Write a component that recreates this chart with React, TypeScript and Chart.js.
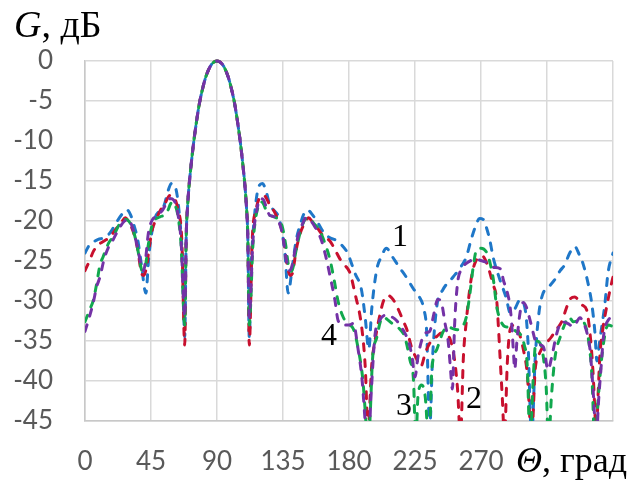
import { useEffect, useRef } from "react";
import { Chart, registerables } from "chart.js";

Chart.register(...registerables);

// ---- axis / tick data ----
const xLabeledTicks = [0, 45, 90, 135, 180, 225, 270];
const xMin = 0;
const xMax = 360;
const xStep = 45;
const yMin = -45;
const yMax = 0;
const yStep = 5;

// ---- main lobe (common to all four curves) ----
const mainLobeAngles = [69, 70, 71, 72, 74, 76, 78, 80, 82, 84, 86, 88, 90, 92, 94, 96, 98, 100, 102, 104, 106, 108, 109, 110, 111];
const mainLobeGain = [-22, -18, -15.5, -13.6, -10.3, -7.6, -5.3, -3.6, -2.2, -1.2, -0.5, -0.12, 0, -0.12, -0.5, -1.2, -2.2, -3.6, -5.3, -7.6, -10.3, -13.6, -15.5, -18, -22];

// ---- curve 1 (blue) side lobes ----
const angles1 = [0, 3, 6, 9, 13, 17, 21, 25, 28.5, 31, 33, 36, 38.5, 41.5, 43.5, 45.5, 48, 51, 54, 56.5, 59, 62, 64.5, 66.5, 68,
  112, 113.5, 115.5, 118, 121, 123.5, 126, 129, 132, 134.5, 136.5, 138.5, 141.5, 144, 147, 149, 151.5, 155, 159, 163, 167, 171, 175, 179, 184, 188.5, 191, 193.5, 195.5, 199, 202, 205.5, 209, 214, 219, 224, 228, 231, 233, 235, 237, 240, 244, 251, 256, 260, 263, 266, 269, 271.5, 274, 276, 278.5, 283, 287, 290, 293, 296.5, 299.5, 302, 304.5, 307, 309.5, 312, 316, 320, 324, 327, 330.5, 334, 337, 339.5, 343, 345.5, 347.7, 349, 351, 354.5, 356.6, 360];
const gain1 = [-24, -23, -22.6, -22.3, -22.1, -21.5, -20.3, -19.2, -18.6, -19.2, -20.3, -22.4, -25.5, -29, -24.5, -21.5, -19.5, -18.7, -18, -16.3, -15.3, -16, -19.5, -25, -34.5,
  -34.5, -25, -19.5, -16, -15.3, -16.3, -18, -18.7, -19.5, -21.5, -24.5, -29, -25.5, -22.4, -20.3, -19.2, -18.6, -19.2, -20.3, -21.5, -22.1, -22.4, -23, -24, -26.5, -28.6, -32, -36, -31, -26, -24.5, -23.4, -24.3, -25.7, -27, -28.5, -29.5, -31, -34, -46, -37, -30.5, -28.6, -27, -25.8, -24.5, -22.5, -20.8, -19.7, -19.8, -21, -22.4, -24.7, -27.4, -29.5, -31.5, -31, -29.9, -30.5, -35, -47, -37, -31.5, -29.2, -28.3, -27.4, -26.2, -25.5, -24, -23.2, -24.2, -25.3, -27.8, -30.3, -34, -37.5, -34.9, -30.3, -26.5, -24];

// ---- curve 2 (red) side lobes ----
const angles2 = [0, 3, 5.7, 9, 13, 17, 21.5, 25, 27.5, 30, 32.8, 36, 38.5, 40, 42, 44, 46, 48.5, 51, 54.5, 58, 60.5, 63.4, 66, 68,
  112, 114, 116.6, 119.5, 122, 125.5, 129, 131.5, 134, 136, 138, 140, 141.5, 144, 147.2, 150, 152.5, 155, 158.5, 163, 167, 170.5, 174, 177, 180.7, 184, 188.6, 191, 193, 195.5, 197.7, 201, 203.5, 206.5, 210, 213.5, 217, 219.5, 222.5, 226, 229, 232, 236, 240, 243, 246, 249, 252, 254, 256, 258, 260, 262, 264, 266, 268.5, 271, 274, 278, 280.7, 281.8, 283, 284.5, 286, 288, 290, 293, 296, 298.8, 301.5, 304.5, 307, 310, 312.5, 318, 321, 323, 325.5, 328, 331, 334, 336, 339, 342, 344, 345.5, 346.7, 347.7, 348.5, 350, 351, 353, 355.7, 358, 360];
const gain2 = [-26.2, -25, -23.8, -23, -22.5, -22, -20.9, -20.1, -19.6, -20.2, -21.3, -23.6, -26.5, -26.8, -25.7, -23, -21, -19.8, -18.8, -17.8, -16.8, -17, -18.6, -22.4, -35.5,
  -35.5, -22.4, -18.6, -17, -16.8, -17.8, -18.8, -19.8, -21, -23, -25.7, -26.8, -26.5, -23.6, -21.3, -20.2, -19.6, -20.1, -20.9, -22, -22.5, -23.6, -24.8, -25.5, -26.5, -29, -33.2, -38, -46, -38, -35, -31.8, -30, -29.3, -29.8, -31, -32.5, -33.6, -35.7, -37.2, -38.2, -36.5, -35, -34.4, -34, -34.2, -34.8, -37.4, -41, -47, -37, -32.5, -29, -26.5, -25.2, -24.5, -24.4, -25.3, -27.8, -29.9, -33, -37, -42, -47, -37.5, -33.5, -33, -34, -36, -39, -47, -38.5, -36.5, -35.7, -34.5, -33.6, -33.2, -32.4, -31, -29.7, -29.5, -29.8, -30.5, -31.1, -33.5, -36.5, -40, -44, -47, -41, -37, -33.6, -30.7, -28.6, -27];

// ---- curve 3 (green) side lobes ----
const angles3 = [0, 3.4, 5.7, 8, 10.2, 12.3, 16, 19, 23.9, 28, 32.8, 36, 38.6, 39.8, 41.5, 43, 45.5, 48, 51, 55.7, 58.5, 60, 62, 63.5, 65.5, 68,
  112, 114.5, 116.5, 118, 120, 121.5, 124.3, 129, 132, 134.5, 137, 138.5, 140.2, 141.4, 144, 147.2, 150, 152.5, 156, 160, 164, 167, 170, 172.5, 176, 179, 183, 186, 189.5, 191.5, 193, 194.5, 196, 199, 201.5, 203.5, 206, 210, 214, 218, 221.6, 224, 225.5, 227, 229.5, 232, 234.5, 236.5, 240, 244.3, 247.5, 250, 254, 257, 260, 262.5, 264.5, 267, 270, 274, 276.5, 278.5, 280.7, 283.5, 286.4, 290, 294, 297, 299.5, 301.5, 303.5, 305.5, 307.5, 310, 312.5, 314.5, 316, 318, 320.5, 324, 328.4, 330, 333, 336, 339, 341, 343, 345.5, 347.7, 350, 353, 356.7, 360];
const gain3 = [-32.6, -31, -29.9, -27.8, -25.5, -24.5, -22.8, -22, -20.3, -19.8, -21.1, -23.6, -26.1, -26.3, -25.3, -23.2, -20.7, -19.8, -19.5, -19, -17.8, -17.6, -18.3, -19.5, -23, -33,
  -33, -23, -19.5, -18.3, -17.6, -17.8, -19, -19.5, -19.8, -20.7, -23.2, -25.3, -26.3, -26.1, -23.6, -21.1, -19.8, -19.6, -20.3, -21.2, -23, -24.8, -27.5, -30, -32, -32.8, -33.5, -35.7, -40, -45, -49, -44, -37.4, -34.5, -32.5, -32, -32.3, -32.9, -33.4, -34.5, -37.4, -40, -48, -42, -40.5, -42, -48, -38.6, -36, -33.8, -33.2, -33.4, -33.6, -33.3, -32, -29, -26, -23.6, -23.4, -24, -25.5, -27.4, -30.7, -32.5, -33.2, -33.3, -33.8, -34.2, -35.5, -38, -48, -40, -35, -35.2, -37, -41, -48, -42, -37, -34.5, -32.4, -32, -32.6, -32.5, -32.5, -33, -34.5, -39, -48, -42, -36, -33, -33.2];

// ---- curve 4 (purple) side lobes ----
const angles4 = [0, 3, 5.5, 8, 10.2, 13, 16, 19, 23, 27, 29.5, 33, 36, 38.5, 40, 41.5, 43, 45, 47, 50, 53, 56, 58, 60.5, 63, 65.5, 68,
  112, 114.5, 117, 119.5, 121.5, 124, 126, 128, 131, 133, 135, 137, 139.5, 141, 143.5, 146, 148.5, 150.5, 153.5, 157, 161, 164, 167, 170.5, 172.5, 176, 180, 183, 186, 189, 191, 193, 195, 197.7, 201, 204.5, 208, 211, 214, 218, 220.5, 223, 225, 227, 229.6, 232, 235, 238, 240.5, 243, 245.5, 247.6, 249, 250.5, 252, 254, 257, 262.5, 266, 269.3, 274, 279, 284, 285, 287.5, 289.8, 291, 292, 293, 294.5, 296.6, 298.8, 301, 304, 308, 312.5, 315.7, 318, 321.6, 325, 329, 333, 337.5, 340, 342, 344.3, 346, 347.3, 348.3, 350, 352, 353.5, 356.7, 360];
const gain4 = [-33.8, -32, -30.3, -28.2, -27, -24.8, -23.3, -22.4, -21, -20, -19.8, -21.2, -23.5, -25.7, -26.2, -24.5, -21.8, -20.2, -19.6, -19.2, -18.6, -17.6, -17.2, -17.4, -18.8, -22.5, -32,
  -32, -22.5, -18.8, -17.2, -17.3, -18.5, -19.3, -19.4, -19.8, -20.5, -22, -24.5, -26.2, -25.7, -23.4, -21.4, -20.3, -19.6, -19.9, -20.8, -22.3, -24.3, -26.8, -30, -32.4, -33, -33, -32.8, -35.8, -40, -45, -49, -42, -34.3, -32.4, -31.8, -31.9, -32.2, -32.8, -34, -35, -37, -39.5, -37, -34.9, -34, -33.8, -31.5, -29.8, -30.2, -32.8, -35, -38, -41, -33, -27.8, -26, -25, -24.8, -24.9, -25.2, -25.8, -26.1, -27.2, -28.6, -30.7, -33, -36, -38.5, -35, -31.5, -30.2, -30.8, -32.8, -35.3, -35.7, -38.6, -37.2, -34.1, -32.6, -32.8, -33.2, -32.1, -32.8, -33.8, -36, -40, -44, -49, -43, -38, -34.5, -32.4, -32];

const seriesColors = ["#1F77C8", "#C8102E", "#11A84E", "#7432A6"];
const curveLabels = ["1", "2", "3", "4"];

function buildPoints(angles: number[], gains: number[]) {
  const pts = angles.map((a, i) => ({ x: a, y: gains[i] }));
  mainLobeAngles.forEach((a, i) => pts.push({ x: a, y: mainLobeGain[i] }));
  pts.sort((p, q) => p.x - q.x);
  return pts;
}

export default function App() {
  const canvasRef = useRef<HTMLCanvasElement | null>(null);

  useEffect(() => {
    document.body.style.margin = "0";
    const canvas = canvasRef.current;
    if (!canvas) return;
    const sets = [
      [angles1, gain1],
      [angles2, gain2],
      [angles3, gain3],
      [angles4, gain4],
    ] as const;
    const chart = new Chart(canvas, {
      type: "line",
      data: {
        datasets: sets.map(([a, g], i) => ({
          label: curveLabels[i],
          data: buildPoints(a as number[], g as number[]),
          borderColor: seriesColors[i],
          backgroundColor: seriesColors[i],
          borderWidth: 3,
          borderDash: [7, 9],
          borderCapStyle: "round" as const,
          pointRadius: 0,
          fill: false,
          cubicInterpolationMode: "monotone" as const,
          order: 4 - i,
          clip: { left: 0, top: 3, right: 0, bottom: 0 },
        })),
      },
      options: {
        responsive: false,
        animation: false,
        devicePixelRatio: 1,
        layout: { padding: { top: 61, right: 25, left: 0, bottom: 0 } },
        plugins: {
          legend: { display: false },
          tooltip: { enabled: false },
          title: { display: false },
        },
        scales: {
          x: {
            type: "linear",
            min: xMin,
            max: xMax,
            afterFit: (scale: any) => {
              scale.height = 65;
            },
            ticks: {
              stepSize: xStep,
              autoSkip: false,
              maxRotation: 0,
              padding: 25,
              color: "#595959",
              font: { family: "Lato", size: 26 },
              callback: (v: any) => (xLabeledTicks.includes(Number(v)) ? String(v) : ""),
            },
            grid: { color: "#D9D9D9", lineWidth: 1.5, drawTicks: false },
            border: { display: true, color: "#C8C8C8", width: 1.5 },
          },
          y: {
            type: "linear",
            min: yMin,
            max: yMax,
            afterFit: (scale: any) => {
              scale.width = 85;
            },
            ticks: {
              stepSize: yStep,
              padding: 32,
              color: "#595959",
              font: { family: "Lato", size: 26 },
              callback: (v: any) => String(v),
            },
            grid: { color: "#D9D9D9", lineWidth: 1.5, drawTicks: false },
            border: { display: true, color: "#C8C8C8", width: 1.5 },
          },
        },
      },
    });
    return () => chart.destroy();
  }, []);

  const serif = "'Liberation Serif', 'Times New Roman', serif";
  const labelStyle = (left: number, top: number): React.CSSProperties => ({
    position: "absolute",
    left,
    top,
    fontFamily: serif,
    fontSize: 32,
    lineHeight: 1,
    color: "#000",
    whiteSpace: "nowrap",
  });

  return (
    <div style={{ position: "relative", width: 638, height: 486, background: "#fff" }}>
      <canvas ref={canvasRef} width={638} height={486} style={{ display: "block" }} />
      <div style={{ position: "absolute", left: 14, top: 5, fontFamily: serif, fontSize: 38, lineHeight: 1, whiteSpace: "nowrap" }}>
        <i>G</i>, дБ
      </div>
      <div style={{ position: "absolute", left: 516, top: 442, fontFamily: serif, fontSize: 36, lineHeight: 1, whiteSpace: "nowrap" }}>
        <i>Θ</i>, град
      </div>
      <div style={labelStyle(392, 219)}>{curveLabels[0]}</div>
      <div style={labelStyle(466, 381)}>{curveLabels[1]}</div>
      <div style={labelStyle(396, 388)}>{curveLabels[2]}</div>
      <div style={labelStyle(321, 318)}>{curveLabels[3]}</div>
    </div>
  );
}
